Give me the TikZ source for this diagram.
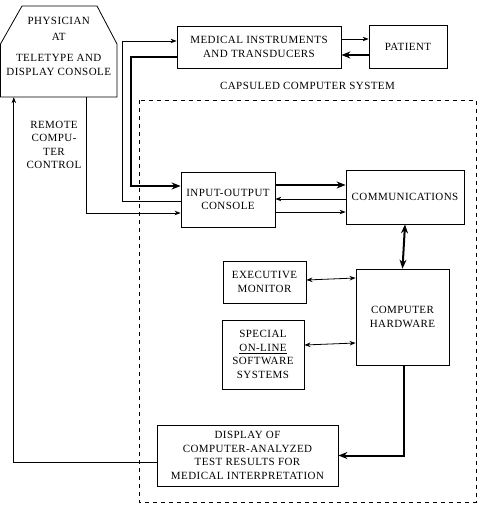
\documentclass[tikz,border=0pt]{standalone}
\usepackage{fontspec}
\setmainfont[LetterSpace=4]{Liberation Serif}
\usetikzlibrary{arrows.meta,calc}
\begin{document}
\begin{tikzpicture}[x=1pt,y=-1pt,
  txt/.style={align=center,inner sep=0pt,font=\fontsize{11}{13.5}\selectfont},
  box/.style={txt,draw,line width=0.8pt},
  thinarrow/.style={line width=0.8pt,-{Stealth[length=6pt,width=4.5pt]}},
  thinboth/.style={line width=0.8pt,{Stealth[length=6pt,width=4.5pt]}-{Stealth[length=6pt,width=4.5pt]}},
  thickarrow/.style={line width=2pt,-{Stealth[length=9pt,width=7pt]}},
  thickboth/.style={line width=2pt,{Stealth[length=9pt,width=7pt]}-{Stealth[length=9pt,width=7pt]}},
  capsule/.style={line width=0.8pt,dash pattern=on 4pt off 4pt}]
\useasboundingbox (0,0) rectangle (479,508);

% physician console outline and anchor node
\node[minimum width=116.5pt,minimum height=91pt,inner sep=0pt] (phys) at (58.75,51.5) {};
\draw[line width=0.8pt] (22,6) -- (97,6) -- (117,44) -- (117,97) -- (0.5,97) -- (0.5,44) -- cycle;
\node[txt] (physt) at (58.75,46.5) {PHYSICIAN\\[2pt]AT\\[8pt]TELETYPE AND\\DISPLAY CONSOLE};

\node[box,minimum width=164pt,minimum height=42pt] (med) at (259,47) {MEDICAL INSTRUMENTS\\AND TRANSDUCERS};
\node[box,minimum width=78pt,minimum height=43pt] (pat) at (408,46.5) {PATIENT};

\node[txt] (caps) at (307.5,86) {CAPSULED COMPUTER SYSTEM};
\draw[capsule] (139,100) rectangle (476,502);

\node[box,minimum width=94pt,minimum height=55pt] (io) at (228,199.5) {INPUT-OUTPUT\\CONSOLE};
\node[box,minimum width=118pt,minimum height=54pt] (comm) at (405,197) {COMMUNICATIONS};
\node[box,minimum width=93pt,minimum height=96pt] (hw) at (402.5,317) {COMPUTER\\HARDWARE};
\node[box,minimum width=83pt,minimum height=42pt] (exec) at (264.5,282) {EXECUTIVE\\MONITOR};
\node[box,minimum width=82pt,minimum height=69pt] (spec) at (263,354.5) {SPECIAL\\\underline{ON-LINE}\\SOFTWARE\\SYSTEMS};
\node[box,minimum width=181pt,minimum height=61pt] (disp) at (247.5,455.5) {DISPLAY OF\\COMPUTER-ANALYZED\\TEST RESULTS FOR\\MEDICAL INTERPRETATION};

\node[txt] (remote) at (54,145) {REMOTE\\COMPU-\\TER\\CONTROL};

% physician <-> instruments / console
\draw[thinarrow] ($(phys.south west)+(86.5,0)$) |- ($(io.west)+(0,13.5)$);
\draw[thinarrow] ($(io.west)+(0,1.5)$) -- ++(-58,0) |- ($(med.west)+(0,-6)$);
\draw[thickarrow] ($(med.west)+(0,10)$) -- ++(-46,0) |- ($(io.west)+(0,-13.5)$);

% instruments <-> patient
\draw[thinarrow] ($(med.east)+(0,-8)$) -- ($(pat.west)+(0,-7.5)$);
\draw[thickarrow] ($(pat.west)+(0,8.5)$) -- ($(med.east)+(0,8)$);

% console <-> communications
\draw[thickarrow] ($(io.east)+(0,-14.5)$) -- ($(comm.west)+(0,-12)$);
\draw[thinarrow] ($(comm.west)+(0,2)$) -- ($(io.east)+(0,-0.5)$);
\draw[thinarrow] ($(io.east)+(0,12.5)$) -- ($(comm.west)+(0,15)$);

% communications <-> hardware
\draw[thickboth] (comm.south) -- (hw.north);

% software <-> hardware
\draw[thinboth] ($(exec.east)+(0,-2)$) -- ($(hw.west)+(0,-39)$);
\draw[thinboth] ($(spec.east)+(0,-9.5)$) -- ($(hw.west)+(0,26)$);

% hardware -> display -> physician
\draw[thickarrow] ($(hw.south)+(1.5,0)$) |- (disp.east);
\draw[thinarrow] ($(disp.west)+(0,6.5)$) -| ($(phys.south west)+(13.5,0)$);
\end{tikzpicture}
\end{document}
